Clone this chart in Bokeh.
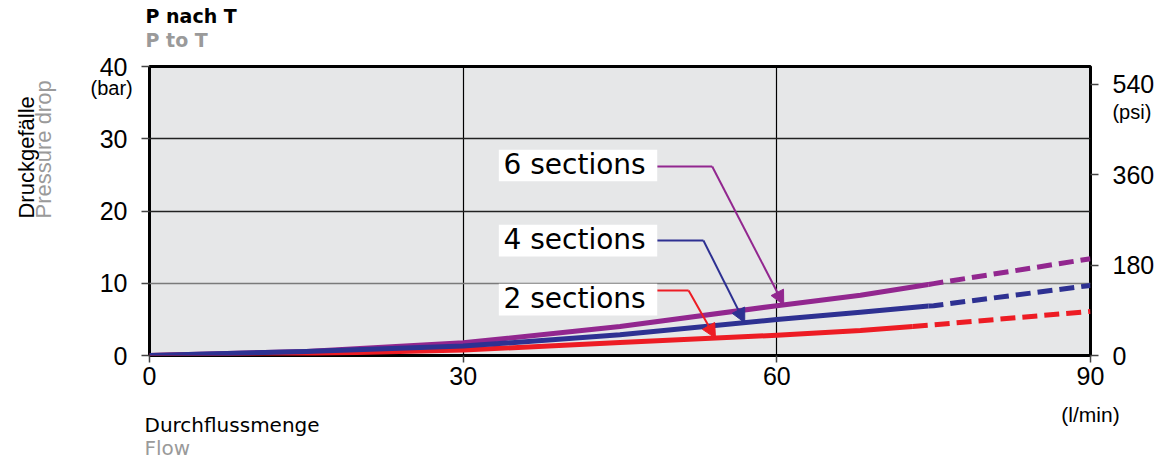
import numpy as np
from bokeh.plotting import figure
from bokeh.models import (Range1d, LinearAxis, FixedTicker, Label, Arrow, NormalHead,
                          BoxAnnotation, Grid)
from bokeh.embed import file_html
from bokeh.resources import INLINE

# ---------------- data ----------------
flow = [0, 15, 30, 45, 60, 68, 75, 90]                      # l/min
p_6_sections = [0, 0.55, 1.75, 4.0, 6.9, 8.35, 9.95, 13.4]  # bar
p_4_sections = [0, 0.55, 1.3, 2.86, 4.97, 6.0, 6.9, 9.7]
p_2_sections = [0, 0.25, 0.75, 1.8, 2.8, 3.45, 4.25, 6.1]
solid_until = {"6": 74.5, "4": 74.5, "2": 73.0}            # measured part, then extrapolated (dashed)

x_ticks = [0, 30, 60, 90]
y_ticks = [0, 10, 20, 30, 40]
psi_ticks = [0, 180, 360, 540]

# ---------------- style / layout ----------------
C6, C4, C2 = "#92278f", "#2e3192", "#ed1c24"
GRAY = "#9a9a9a"
ARIAL = "Liberation Sans"
VERD = "DejaVu Sans"

p = figure(width=1166, height=465, output_backend="svg", toolbar_location=None,
           x_range=Range1d(0, 90), y_range=Range1d(0, 40),
           min_border_left=149, min_border_right=76, min_border_top=66, min_border_bottom=110)
p.extra_y_ranges = {"psi": Range1d(0, 575)}
p.background_fill_color = "#e6e7e8"
p.border_fill_color = "white"
p.outline_line_color = "black"
p.outline_line_width = 3

def style_axis(ax, ticks, standoff, tick_out=8):
    ax.ticker = FixedTicker(ticks=ticks)
    ax.axis_line_color = None
    ax.major_tick_out = tick_out
    ax.major_tick_in = 0
    ax.major_tick_line_color = "#444"
    ax.major_tick_line_width = 1.5
    ax.minor_tick_line_color = None
    ax.major_label_text_font = ARIAL
    ax.major_label_text_font_size = "25px"
    ax.major_label_text_color = "black"
    ax.major_label_standoff = standoff

style_axis(p.xaxis[0], x_ticks, 4, tick_out=7)
style_axis(p.yaxis[0], y_ticks, 14)
right = LinearAxis(y_range_name="psi")
style_axis(right, psi_ticks, 14)
p.add_layout(right, "right")

# grids
p.xgrid.ticker = FixedTicker(ticks=[30, 60])
p.xgrid.grid_line_color = "black"
p.xgrid.grid_line_width = 1.2
p.ygrid.ticker = FixedTicker(ticks=[20, 30])
p.ygrid.grid_line_color = "#222"
p.ygrid.grid_line_width = 1.3
g10 = Grid(dimension=1, ticker=FixedTicker(ticks=[10]), grid_line_color="#7a7a7a", grid_line_width=1.6)
p.add_layout(g10)

# curves
xs = np.array(flow, dtype=float)
curves = [("6", p_6_sections, C6), ("2", p_2_sections, C2), ("4", p_4_sections, C4)]
for key, ys, col in curves:
    ys = np.array(ys, dtype=float)
    s = solid_until[key]
    ys_s = np.interp(s, xs, ys)
    m1 = xs < s
    sx = list(xs[m1]) + [s]
    sy = list(ys[m1]) + [ys_s]
    m2 = xs > s
    dx = [s] + list(xs[m2])
    dy = [ys_s] + list(ys[m2])
    p.line(sx, sy, line_color=col, line_width=5, line_join="round")
    p.line(dx, dy, line_color=col, line_width=5, line_dash="15 7")

# labelled leader arrows
annot = [
    ("6 sections", C6, p_6_sections, (33.41, 48.56, 24.12, 28.47), (33.86, 25.15), (48.56, 53.82, 26.16), 60.66),
    ("4 sections", C4, p_4_sections, (33.41, 48.56, 13.70, 18.09), (33.86, 14.77), (48.56, 52.98, 15.92), 56.93),
    ("2 sections", C2, p_2_sections, (33.41, 48.56, 5.54, 9.92), (33.86, 6.68), (48.56, 51.56, 9.0), 54.13),
]
for text, col, ys, box, tpos, lead, tipx in annot:
    l, r, b, t = box
    p.add_layout(BoxAnnotation(left=l, right=r, bottom=b, top=t, fill_color="white",
                               fill_alpha=1.0, line_color=None, level="overlay"))
    p.add_layout(Label(x=tpos[0], y=tpos[1], y_offset=9, text=text, text_font=VERD,
                       text_font_size="28px", text_color="black", text_baseline="alphabetic",
                       level="overlay"))
    x0, xc, yl = lead
    tipy = float(np.interp(tipx, xs, np.array(ys, dtype=float)))
    p.add_layout(Arrow(x_start=x0, y_start=yl, x_end=xc, y_end=yl, end=None,
                       line_color=col, line_width=2))
    p.add_layout(Arrow(x_start=xc, y_start=yl, x_end=tipx, y_end=tipy,
                       end=NormalHead(size=14, fill_color=col, line_color=col),
                       line_color=col, line_width=2))

# titles and axis captions, placed in side panels so they are not clipped to the frame
def lab(side, x, y, text, font, size, color, style="normal", angle=0, align="left"):
    px = int(size.replace("px", ""))
    shift = round(0.33 * px)
    xo, yo = (-shift, 0) if angle else (0, shift)
    p.add_layout(Label(x=x, y=y, x_offset=xo, y_offset=yo, text=text, text_font=font,
                       text_font_size=size, text_color=color, text_font_style=style,
                       angle=angle, angle_units="deg",
                       text_align=align, text_baseline="alphabetic"), side)

lab("above", -0.38, 46.13, "P nach T", VERD, "19px", "black", "bold")
lab("above", -0.38, 42.9, "P to T", VERD, "19px", GRAY, "bold")
lab("above", 92.1, 32.8, "(psi)", ARIAL, "20px", "black")
lab("left", -11.09, 18.96, "Druckgefälle", ARIAL, "22px", "black", angle=90)
lab("left", -9.47, 18.96, "Pressure drop", ARIAL, "22px", GRAY, angle=90)
lab("left", -5.64, 36.12, "(bar)", ARIAL, "20px", "black")
lab("below", -0.48, -10.62, "Durchflussmenge", VERD, "20px", "black")
lab("below", -0.48, -13.84, "Flow", VERD, "20px", GRAY)
lab("below", 90.0, -9.13, "(l/min)", ARIAL, "21px", "black", align="center")

open("out.html", "w").write(file_html(p, INLINE))
